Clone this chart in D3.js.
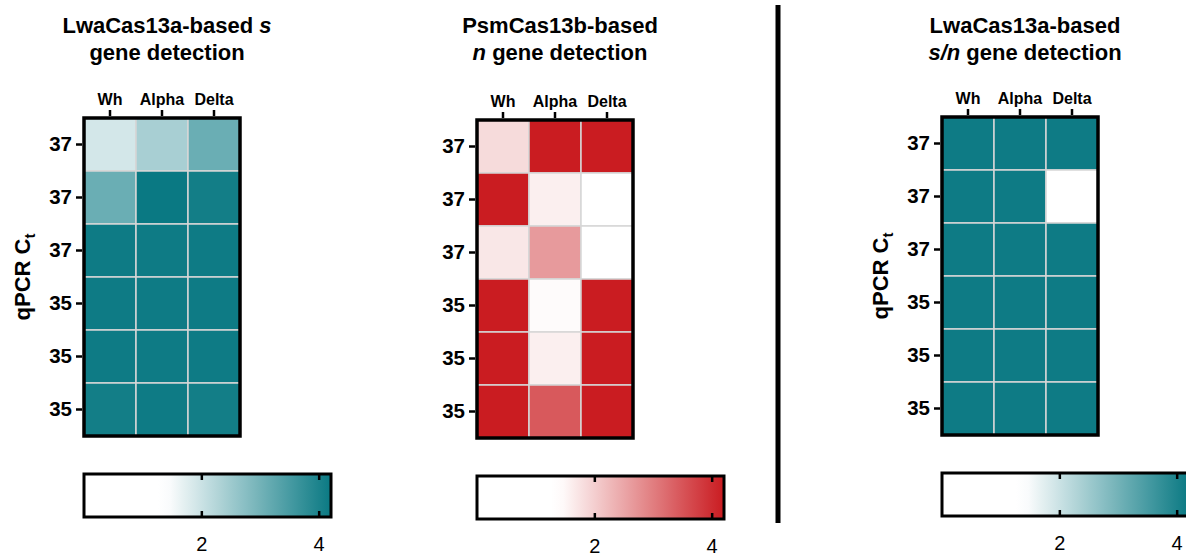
<!DOCTYPE html>
<html>
<head>
<meta charset="utf-8">
<script src="https://cdn.jsdelivr.net/npm/d3@7"></script>
<style>
  body { margin: 0; background: #fff; }
  svg { display: block; font-family: "Liberation Sans", Arial, sans-serif; }
</style>
</head>
<body>
<svg id="chart" width="1186" height="556"></svg>
<script>
// columns and rows shared by the three heatmaps
const genotypes = ['Wh', 'Alpha', 'Delta'];
const ctLabels = ['37', '37', '37', '35', '35', '35'];

// signal values (rows top to bottom)
const sGeneValues = [
  [1.9, 2.4, 3.1],
  [3.1, 4.25, 4.1],
  [4.15, 4.15, 4.15],
  [4.15, 4.15, 4.15],
  [4.15, 4.15, 4.15],
  [4.1, 4.15, 4.1]
];
const nGeneValues = [
  [1.85, 4.2, 4.2],
  [4.2, 1.6, 0],
  [1.7, 2.65, 0],
  [4.2, 1.45, 4.2],
  [4.2, 1.6, 4.2],
  [4.2, 3.45, 4.2]
];
const snGeneValues = [
  [4.15, 4.15, 4.15],
  [4.15, 4.15, 0],
  [4.15, 4.15, 4.15],
  [4.15, 4.15, 4.15],
  [4.15, 4.15, 4.15],
  [4.15, 4.15, 4.15]
];

const colorbarTicks = [2, 4];
const colorbarMax = 4.21;

const teal = d3.scaleLinear().domain([0, 1.4, 4.2]).range(['#ffffff', '#ffffff', '#0a7983']).clamp(true);
const red = d3.scaleLinear().domain([0, 1.4, 4.2]).range(['#ffffff', '#ffffff', '#ca1c21']).clamp(true);

const panels = [
  {
    id: 's', values: sGeneValues, color: teal, left: 84, top: 118, yLabel: true,
    title: [[['LwaCas13a-based ', false], ['s', true]], [['gene detection', false]]]
  },
  {
    id: 'n', values: nGeneValues, color: red, left: 477, top: 120, yLabel: false,
    title: [[['PsmCas13b-based', false]], [['n', true], [' gene detection', false]]]
  },
  {
    id: 'sn', values: snGeneValues, color: teal, left: 942, top: 117, yLabel: true,
    title: [[['LwaCas13a-based', false]], [['s/n', true], [' gene detection', false]]]
  }
];

const cellW = 52, cellH = 53;
const svg = d3.select('#chart');
const defs = svg.append('defs');

function styleAxis(sel) {
  sel.select('.domain').remove();
  sel.selectAll('.tick line').attr('stroke', '#000').attr('stroke-width', 2.5);
  sel.selectAll('.tick text').attr('fill', '#000');
}

function drawPanel(p) {
  const g = svg.append('g').attr('class', 'panel-' + p.id);

  const x = d3.scaleBand()
    .domain(d3.range(genotypes.length))
    .range([p.left, p.left + cellW * genotypes.length]);
  const y = d3.scaleBand()
    .domain(d3.range(ctLabels.length))
    .range([p.top, p.top + cellH * ctLabels.length]);

  const cells = p.values.flatMap((row, r) => row.map((v, c) => ({ r, c, v })));

  g.selectAll('rect.cell')
    .data(cells)
    .join('rect')
    .attr('class', 'cell')
    .attr('x', d => x(d.c))
    .attr('y', d => y(d.r))
    .attr('width', x.bandwidth())
    .attr('height', y.bandwidth())
    .attr('fill', d => p.color(d.v))
    .attr('stroke', '#d6d6d6')
    .attr('stroke-width', 1.5);

  const [x0, x1] = x.range();
  const [y0, y1] = y.range();
  g.append('rect')
    .attr('x', x0).attr('y', y0)
    .attr('width', x1 - x0).attr('height', y1 - y0)
    .attr('fill', 'none')
    .attr('stroke', '#000')
    .attr('stroke-width', 3.5);

  g.append('g')
    .attr('transform', 'translate(0,' + (y0 - 2) + ')')
    .call(d3.axisTop(x).tickSize(6).tickPadding(5).tickFormat(i => genotypes[i]))
    .call(styleAxis)
    .call(s => s.selectAll('.tick text')
      .attr('font-size', 16).attr('font-weight', 'bold').attr('font-family', null));

  g.append('g')
    .attr('transform', 'translate(' + (x0 - 2) + ',0)')
    .call(d3.axisLeft(y).tickSize(6).tickPadding(4).tickFormat(i => ctLabels[i]))
    .call(styleAxis)
    .call(s => s.selectAll('.tick text')
      .attr('font-size', 20.5).attr('font-weight', 'bold').attr('font-family', null));

  if (p.yLabel) {
    const lab = g.append('text')
      .attr('transform', 'translate(' + (x0 - 54) + ',' + ((y0 + y1) / 2) + ') rotate(-90)')
      .attr('text-anchor', 'middle')
      .attr('font-size', 22)
      .attr('font-weight', 'bold');
    lab.append('tspan').text('qPCR C');
    lab.append('tspan').attr('font-size', 15).attr('dy', '0.3em').text('t');
  }

  // title
  const cx = (x0 + x1) / 2 + 5;
  p.title.forEach((line, li) => {
    const t = g.append('text')
      .attr('x', cx)
      .attr('y', 33 + li * 27)
      .attr('text-anchor', 'middle')
      .attr('font-size', 22)
      .attr('font-weight', 'bold');
    line.forEach(([txt, it]) => {
      t.append('tspan').attr('font-style', it ? 'italic' : 'normal').text(txt);
    });
  });

  // colour bar
  const barTop = y0 + 356, barH = 43, barW = 247;
  const cb = d3.scaleLinear().domain([0, colorbarMax]).range([x0, x0 + barW]);
  const grad = defs.append('linearGradient')
    .attr('id', 'grad-' + p.id)
    .attr('x1', '0%').attr('x2', '100%').attr('y1', '0%').attr('y2', '0%');
  d3.range(0, 1.0001, 0.05).forEach(f => {
    grad.append('stop')
      .attr('offset', (f * 100) + '%')
      .attr('stop-color', p.color(f * colorbarMax));
  });

  g.append('rect')
    .attr('x', x0).attr('y', barTop)
    .attr('width', barW).attr('height', barH)
    .attr('fill', 'url(#grad-' + p.id + ')')
    .attr('stroke', '#000')
    .attr('stroke-width', 3);

  g.append('g')
    .attr('transform', 'translate(0,' + barTop + ')')
    .call(d3.axisTop(cb).tickValues(colorbarTicks).tickSize(-6).tickFormat(''))
    .call(styleAxis);

  g.append('g')
    .attr('transform', 'translate(0,' + (barTop + barH) + ')')
    .call(d3.axisBottom(cb).tickValues(colorbarTicks).tickSize(-6).tickPadding(20).tickFormat(d3.format('d')))
    .call(styleAxis)
    .call(s => s.selectAll('.tick text')
      .attr('font-size', 20).attr('font-family', null));
}

panels.forEach(drawPanel);

// separator between the single-gene and combined panels
svg.append('line')
  .attr('x1', 778).attr('x2', 778)
  .attr('y1', 5).attr('y2', 523)
  .attr('stroke', '#000')
  .attr('stroke-width', 5);
</script>
</body>
</html>
